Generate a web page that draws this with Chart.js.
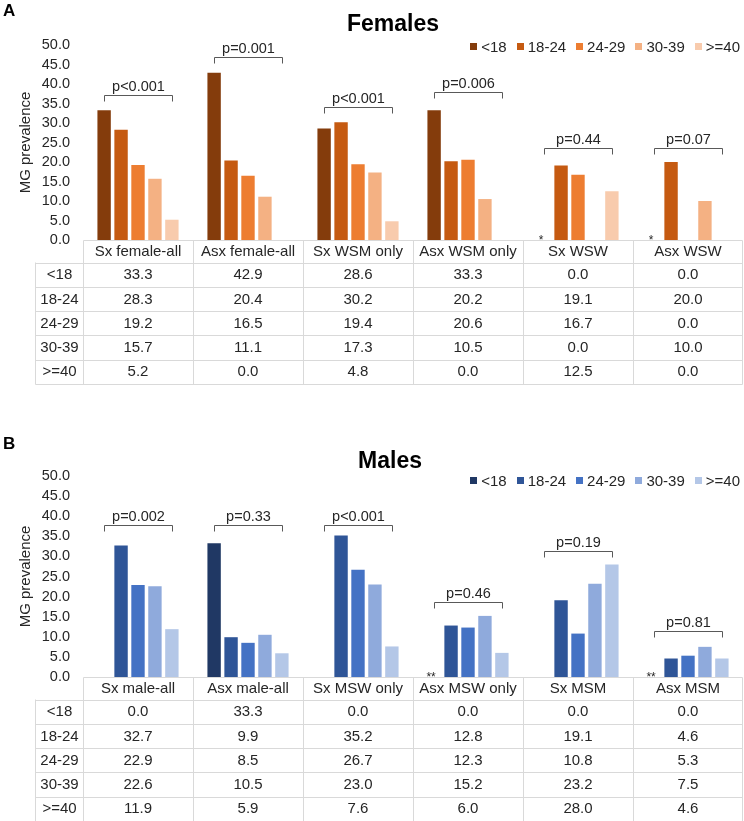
<!DOCTYPE html>
<html>
<head>
<meta charset="utf-8">
<script src="https://cdn.jsdelivr.net/npm/chart.js@4.4.1/dist/chart.umd.min.js"></script>
<style>
  body { margin: 0; background: #fff; }
  canvas { display: block; }
</style>
</head>
<body>
<canvas id="femaleChart" width="744" height="400"></canvas>
<canvas id="maleChart" width="744" height="421"></canvas>
<script>
// age groups (series)
const ageGroups = ['<18', '18-24', '24-29', '30-39', '>=40'];

// panel A - females
const femaleGroups = ['Sx female-all', 'Asx female-all', 'Sx WSM only', 'Asx WSM only', 'Sx WSW', 'Asx WSW'];
const femaleUnder18 = [33.3, 42.9, 28.6, 33.3, 0.0, 0.0];
const female18to24 = [28.3, 20.4, 30.2, 20.2, 19.1, 20.0];
const female24to29 = [19.2, 16.5, 19.4, 20.6, 16.7, 0.0];
const female30to39 = [15.7, 11.1, 17.3, 10.5, 0.0, 10.0];
const female40plus = [5.2, 0.0, 4.8, 0.0, 12.5, 0.0];
const femalePValues = ['p<0.001', 'p=0.001', 'p<0.001', 'p=0.006', 'p=0.44', 'p=0.07'];
const femaleBracketLevels = [37.2, 46.9, 34.1, 37.9, 23.6, 23.6];
const femaleStars = ['', '', '', '', '*', '*'];

// panel B - males
const maleGroups = ['Sx male-all', 'Asx male-all', 'Sx MSW only', 'Asx MSW only', 'Sx MSM', 'Asx MSM'];
const maleUnder18 = [0.0, 33.3, 0.0, 0.0, 0.0, 0.0];
const male18to24 = [32.7, 9.9, 35.2, 12.8, 19.1, 4.6];
const male24to29 = [22.9, 8.5, 26.7, 12.3, 10.8, 5.3];
const male30to39 = [22.6, 10.5, 23.0, 15.2, 23.2, 7.5];
const male40plus = [11.9, 5.9, 7.6, 6.0, 28.0, 4.6];
const malePValues = ['p=0.002', 'p=0.33', 'p<0.001', 'p=0.46', 'p=0.19', 'p=0.81'];
const maleBracketLevels = [37.8, 37.8, 37.8, 18.7, 31.3, 11.4];
const maleStars = ['', '', '', '**', '', '**'];

const orangeShades = ['#843C0C', '#C55A11', '#ED7D31', '#F4B183', '#F8CBAD'];
const blueShades = ['#203864', '#2F5597', '#4472C4', '#8FAADC', '#B4C7E7'];

const FONT = '"Liberation Sans", Arial, sans-serif';
Chart.defaults.font.family = FONT;
Chart.defaults.color = '#262626';

// extra drawing: panel letter, title, legend, p-value brackets, data table
const overlayPlugin = {
  id: 'overlay',
  afterDraw(chart, args, opts) {
    const ctx = chart.ctx;
    const xs = chart.scales.x, ys = chart.scales.y;
    const area = chart.chartArea;
    const sets = chart.data.datasets;
    ctx.save();

    ctx.fillStyle = '#000';
    ctx.textBaseline = 'middle';
    ctx.textAlign = 'left';
    ctx.font = 'bold 17px ' + FONT;
    ctx.fillText(opts.letter, 3, opts.letterY);

    ctx.textAlign = 'center';
    ctx.font = 'bold 23px ' + FONT;
    ctx.fillText(opts.title, opts.titleX, opts.titleY);

    // legend, right aligned
    ctx.font = '15px ' + FONT;
    ctx.textAlign = 'left';
    const widths = sets.map(d => 11 + ctx.measureText(d.label).width);
    const total = widths.reduce((a, b) => a + b, 0) + 10 * (sets.length - 1);
    let lx = 740 - total;
    sets.forEach((d, i) => {
      ctx.fillStyle = d.backgroundColor;
      ctx.fillRect(Math.round(lx), opts.legendY - 4, 7, 7);
      ctx.fillStyle = '#262626';
      ctx.fillText(d.label, lx + 11, opts.legendY + 0.5);
      lx += widths[i] + 10;
    });

    // brackets + p values
    const firstBars = chart.getDatasetMeta(0).data;
    const lastBars = chart.getDatasetMeta(sets.length - 1).data;
    ctx.strokeStyle = '#595959';
    ctx.lineWidth = 1;
    opts.pValues.forEach((p, i) => {
      const x0 = Math.round(firstBars[i].x) + 0.5;
      const x1 = Math.round(lastBars[i].x) + 0.5;
      const by = Math.round(ys.getPixelForValue(opts.levels[i])) + 0.5;
      ctx.beginPath();
      ctx.moveTo(x0, by + 6);
      ctx.lineTo(x0, by);
      ctx.lineTo(x1, by);
      ctx.lineTo(x1, by + 6);
      ctx.stroke();
      ctx.fillStyle = '#262626';
      ctx.font = '14.5px ' + FONT;
      ctx.textAlign = 'center';
      ctx.textBaseline = 'alphabetic';
      ctx.fillText(p, (x0 + x1) / 2, by - 5);
      if (opts.stars[i]) {
        ctx.font = '12px ' + FONT;
        ctx.fillText(opts.stars[i], firstBars[i].x - 3, ys.getPixelForValue(0) + 4);
      }
    });

    // table
    const colW = xs.getPixelForValue(1) - xs.getPixelForValue(0);
    const labelLeft = 35.5;
    const tTop = Math.round(area.bottom) + 0.5;
    const headBottom = tTop + 22;
    const rowH = 24.3;
    const tBottom = headBottom + rowH * sets.length;
    const right = Math.round(area.right) - 0.5;
    const left = Math.round(area.left) + 0.5;
    ctx.strokeStyle = '#d9d9d9';
    ctx.beginPath();
    ctx.moveTo(left, tTop); ctx.lineTo(right, tTop);
    for (let r = 0; r <= sets.length; r++) {
      const yy = Math.round(headBottom + rowH * r) + 0.5;
      ctx.moveTo(labelLeft, yy); ctx.lineTo(right, yy);
    }
    ctx.moveTo(labelLeft, headBottom); ctx.lineTo(labelLeft, Math.round(tBottom) + 0.5);
    for (let c = 0; c <= chart.data.labels.length; c++) {
      const xx = c === 0 ? left : (c === chart.data.labels.length ? right : Math.round(xs.getPixelForValue(c) - colW / 2) + 0.5);
      ctx.moveTo(xx, tTop); ctx.lineTo(xx, Math.round(tBottom) + 0.5);
    }
    ctx.stroke();

    ctx.fillStyle = '#262626';
    ctx.font = '15px ' + FONT;
    ctx.textAlign = 'center';
    ctx.textBaseline = 'middle';
    chart.data.labels.forEach((lab, c) => {
      ctx.fillText(lab, xs.getPixelForValue(c), tTop + 11.5);
    });
    sets.forEach((d, r) => {
      const cy = headBottom + rowH * r + rowH / 2 + 0.5;
      ctx.fillText(d.label, (labelLeft + left) / 2, cy);
      d.data.forEach((v, c) => {
        ctx.fillText(v.toFixed(1), xs.getPixelForValue(c), cy);
      });
    });
    ctx.restore();
  }
};

function makeChart(id, groups, series, colors, padTop, padBottom, extras) {
  return new Chart(document.getElementById(id), {
    type: 'bar',
    data: {
      labels: groups,
      datasets: ageGroups.map((g, i) => ({
        label: g,
        data: series[i],
        backgroundColor: colors[i],
        categoryPercentage: 0.77,
        barPercentage: 0.79
      }))
    },
    options: {
      responsive: false,
      animation: false,
      layout: { padding: { top: padTop, bottom: padBottom, left: 0, right: 1 } },
      plugins: {
        legend: { display: false },
        title: { display: false },
        tooltip: { enabled: false },
        overlay: extras
      },
      scales: {
        x: { display: false },
        y: {
          min: 0,
          max: 50,
          grid: { display: false, drawTicks: false },
          border: { display: false },
          ticks: {
            stepSize: 5,
            autoSkip: false,
            padding: 13,
            color: '#262626',
            font: { size: 14.5 },
            callback: v => v.toFixed(1)
          },
          title: {
            display: true,
            text: 'MG prevalence',
            color: '#262626',
            font: { size: 15 },
            padding: { top: 17, bottom: 0 }
          },
          afterFit: scale => { scale.width = 83; }
        }
      }
    },
    plugins: [overlayPlugin]
  });
}

makeChart('femaleChart', femaleGroups,
  [femaleUnder18, female18to24, female24to29, female30to39, female40plus],
  orangeShades, 45, 160,
  { letter: 'A', letterY: 11, title: 'Females', titleX: 393, titleY: 25, legendY: 47,
    pValues: femalePValues, levels: femaleBracketLevels, stars: femaleStars });

makeChart('maleChart', maleGroups,
  [maleUnder18, male18to24, male24to29, male30to39, male40plus],
  blueShades, 76, 144,
  { letter: 'B', letterY: 44, title: 'Males', titleX: 390, titleY: 62, legendY: 81,
    pValues: malePValues, levels: maleBracketLevels, stars: maleStars });
</script>
</body>
</html>
